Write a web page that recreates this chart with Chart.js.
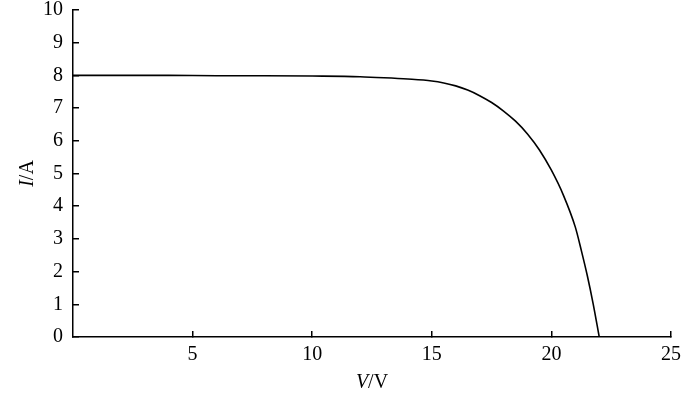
<!DOCTYPE html>
<html>
<head>
<meta charset="utf-8">
<script src="https://cdn.jsdelivr.net/npm/chart.js@4"></script>
<style>
  html, body { margin: 0; padding: 0; background: #fff; }
  #wrap { width: 700px; height: 395px; }
</style>
</head>
<body>
<div id="wrap"><canvas id="iv"></canvas></div>
<script>
// I-V Kennlinie
const voltage = [0, 2, 4, 6, 8, 10, 12, 13, 14, 15, 15.5, 16, 16.5, 17, 17.5, 18, 18.5, 19, 19.5, 20, 20.5, 21, 21.25, 21.5, 21.75, 22];
const current = [8.0, 8.0, 8.0, 7.99, 7.99, 7.98, 7.96, 7.93, 7.89, 7.83, 7.77, 7.68, 7.55, 7.38, 7.17, 6.91, 6.60, 6.21, 5.72, 5.10, 4.34, 3.36, 2.65, 1.88, 1.0, 0];
const xTicks = [5, 10, 15, 20, 25];
const yTicks = [0, 1, 2, 3, 4, 5, 6, 7, 8, 9, 10];

const serif = "'Liberation Serif', 'Times New Roman', serif";

// axis titles with italic symbol
const axisTitles = {
  id: 'axisTitles',
  afterDraw(chart) {
    const c = chart.ctx;
    const area = chart.chartArea;
    const part = (txt, italic) => {
      c.font = (italic ? 'italic ' : '') + '20px ' + serif;
      return c.measureText(txt).width;
    };
    const draw = (sym, unit, x, y) => {
      const w1 = part(sym, true), w2 = part(unit, false);
      const sx = x - (w1 + w2) / 2;
      part(sym, true); c.fillText(sym, sx, y);
      part(unit, false); c.fillText(unit, sx + w1, y);
    };
    c.save();
    c.fillStyle = '#000';
    c.textBaseline = 'middle';
    c.textAlign = 'left';
    draw('V', '/V', (area.left + area.right) / 2, 383);
    c.translate(28, (area.top + area.bottom) / 2);
    c.rotate(-Math.PI / 2);
    draw('I', '/A', 0, 0);
    c.restore();
  }
};

new Chart(document.getElementById('iv'), {
  type: 'scatter',
  data: {
    datasets: [{
      data: voltage.map((v, i) => ({ x: v, y: current[i] })),
      showLine: true,
      borderColor: '#000',
      borderWidth: 1.6,
      pointRadius: 0,
      cubicInterpolationMode: 'monotone'
    }]
  },
  options: {
    responsive: true,
    maintainAspectRatio: false,
    animation: false,
    layout: { padding: { top: 10, right: 29, left: 0, bottom: 0 } },
    scales: {
      x: {
        min: 0,
        max: 25,
        afterFit(s) { s.height = 58; s.paddingLeft = 0; s.paddingRight = 0; },
        afterBuildTicks(s) { s.ticks = xTicks.map(v => ({ value: v })); },
        ticks: {
          color: '#000',
          padding: 12,
          font: { family: serif, size: 20 }
        },
        // negative tickLength -> ticks point into the plot
        grid: { drawOnChartArea: false, drawTicks: true, tickLength: -6, color: '#000', lineWidth: 1.5 },
        border: { color: '#000', width: 1.5 }
      },
      y: {
        min: 0,
        max: 10,
        afterFit(s) { s.width = 73; s.paddingTop = 0; s.paddingBottom = 0; },
        afterBuildTicks(s) { s.ticks = yTicks.map(v => ({ value: v })); },
        ticks: {
          color: '#000',
          padding: 16,
          font: { family: serif, size: 20 }
        },
        grid: { drawOnChartArea: false, drawTicks: true, tickLength: -6, color: '#000', lineWidth: 1.5 },
        border: { color: '#000', width: 1.5 }
      }
    },
    plugins: {
      legend: { display: false },
      tooltip: { enabled: false }
    }
  },
  plugins: [axisTitles]
});
</script>
</body>
</html>
